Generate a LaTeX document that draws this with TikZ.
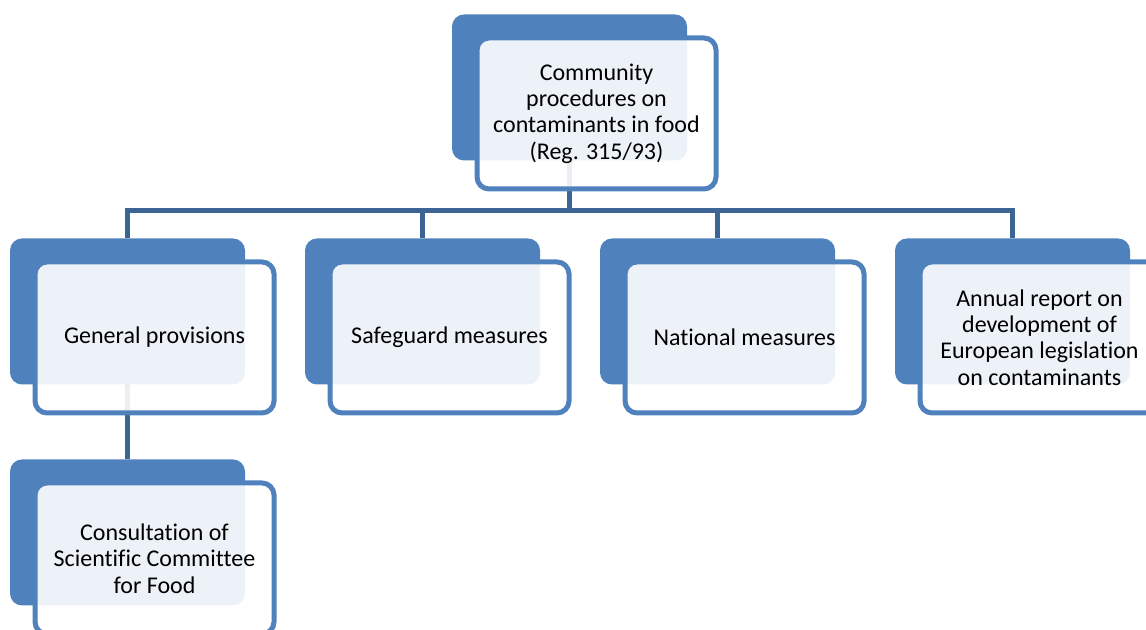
\documentclass[tikz,border=0pt]{standalone}
\usepackage{fontspec}
\setmainfont{Carlito}[Ligatures={NoCommon,NoContextual}]
\usepackage{xcolor}
\usetikzlibrary{positioning}
\definecolor{boxblue}{RGB}{79,129,189}
\definecolor{linkblue}{RGB}{60,101,150}

\begin{document}
\begin{tikzpicture}[x=0.5pt, y=0.5pt,
    back/.style={fill=boxblue, rounded corners=6pt, inner sep=0pt, outer sep=0pt,
        minimum width=117.5pt, minimum height=73pt},
    front/.style={draw=boxblue, line width=2.5pt, fill=white, fill opacity=0.9,
        text opacity=1, rounded corners=6pt, inner sep=0pt,
        minimum width=119.5pt, minimum height=75.5pt, align=center,
        font=\fontsize{12}{13.2}\selectfont, xshift=13.5pt, yshift=-13pt},
    link/.style={draw=linkblue, line width=2.5pt}]

    \useasboundingbox (0,0) rectangle (1146,630);
    \clip (0,0) rectangle (1146,630);

    % ---------------------------------------------------
    % Back boxes
    % ---------------------------------------------------
    \node[back] (top) at (569.5,542.5) {};
    \node[back] (gen) at (127.5,318.5) {};
    \node[back, right=30pt of gen] (safe) {};
    \node[back, right=30pt of safe] (nat) {};
    \node[back, right=30pt of nat] (rep) {};
    \node[back, below=37.5pt of gen] (cons) {};

    % ---------------------------------------------------
    % Connectors
    % ---------------------------------------------------
    \foreach \n in {gen, safe, nat, rep} {
        \draw[link] (top.south) -- ++(0,-50.5) -| (\n.north);
    }
    \draw[link] (gen.south) -- (cons.north);

    % ---------------------------------------------------
    % Front boxes with the texts
    % ---------------------------------------------------
    \node[front] (topF) at (top) {Community\\procedures on\\contaminants in food\\(Reg. 315/93)};
    \node[front] (genF) at (gen) {General provisions};
    \node[front] (safeF) at (safe) {Safeguard measures};
    \node[front] (natF) at (nat) {National measures};
    \node[front] (repF) at (rep) {Annual report on\\development of\\European legislation\\on contaminants};
    \node[front] (consF) at (cons) {Consultation of\\Scientific Committee\\for Food};

\end{tikzpicture}
\end{document}
